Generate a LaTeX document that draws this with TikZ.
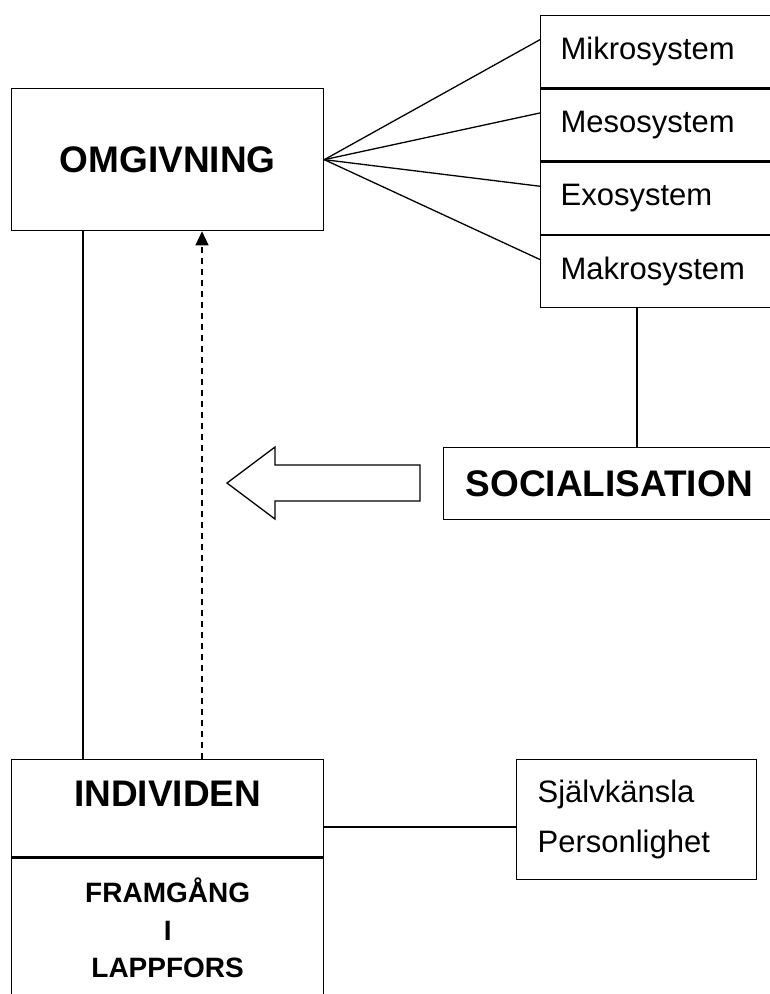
\documentclass[tikz,border=0pt]{standalone}
\usepackage{fontspec}
\setmainfont{Liberation Sans}
\usetikzlibrary{arrows.meta, positioning}

\begin{document}
\begin{tikzpicture}[x=1pt, y=-1pt, line width=1.3pt,
  >={Triangle[length=14pt, width=13pt]},
  box/.style={draw, rectangle, anchor=north west, inner sep=0pt},
  big/.style={font=\fontsize{37}{44}\selectfont\bfseries},
  small/.style={font=\fontsize{31}{50}\selectfont},
  system/.style={box, small, minimum height=72pt, text width=240pt,
    inner xsep=20pt, align=left}]
  \useasboundingbox (0,0) rectangle (770,994);
  \clip (0,0) rectangle (770,994);

  \node[box, big, minimum width=312pt, minimum height=142pt] (omg) at (11,88) {OMGIVNING};

  \node[system] (mikro) at (540,15) {Mikrosystem};
  \node[system] (meso) at (mikro.south west) {Mesosystem};
  \node[system] (exo) at (meso.south west) {Exosystem};
  \node[system] (makro) at (exo.south west) {Makrosystem};

  \node[box, big, text width=338pt, inner xsep=22pt, align=left,
    minimum height=72pt] (soc) at (443,447) {SOCIALISATION};

  \node[box, big, minimum width=312pt, text height=47pt, text depth=50pt] (individ) at (11,759) {INDIVIDEN};
  \node[box, font=\fontsize{28}{37.5}\selectfont\bfseries, minimum width=312pt,
    minimum height=140pt, align=center] (framgang) at (individ.south west) {FRAMGÅNG\\I\\LAPPFORS};

  \node[box, small, text width=198pt, inner xsep=21pt, align=left,
    minimum height=120pt] (self) at (516,759) {Självkänsla\\Personlighet};

  % where the connectors run
  \coordinate (solidx) at (83,0);
  \coordinate (dashx) at (202,0);
  \coordinate (socx) at (637,0);
  \coordinate (selfy) at (0,827);

  \foreach \sys in {mikro, meso, exo, makro}
    \draw (omg.east) -- ([yshift=12pt]\sys.west);

  \draw (makro.south -| socx) -- (soc.north -| socx);
  \draw (omg.south -| solidx) -- (individ.north -| solidx);
  \draw[->, dash pattern=on 6pt off 5pt] (individ.north -| dashx) -- (omg.south -| dashx);
  \draw (individ.east |- selfy) -- (self.west |- selfy);

  % hollow arrow
  \draw (420,465) -- (275,465) -- (275,447) -- (227,483) -- (275,519)
    -- (275,501) -- (420,501) -- cycle;
\end{tikzpicture}
\end{document}
